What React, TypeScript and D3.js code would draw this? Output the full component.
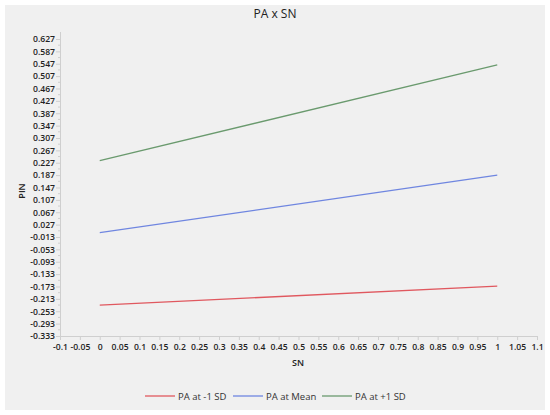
import React, { useEffect, useRef } from "react";
import * as d3 from "d3";

// simple slopes: PIN against SN at three levels of PA
const snValues = [0, 1];
const paLow = [-0.233, -0.172];
const paMean = [0.001, 0.187];
const paHigh = [0.234, 0.543];

const seriesNames = ["PA at -1 SD", "PA at Mean", "PA at +1 SD"];
const seriesColors = ["#e0585f", "#6f86e0", "#6a9a6e"];

const yTicks = [
  0.627, 0.587, 0.547, 0.507, 0.467, 0.427, 0.387, 0.347, 0.307, 0.267, 0.227, 0.187, 0.147,
  0.107, 0.067, 0.027, -0.013, -0.053, -0.093, -0.133, -0.173, -0.213, -0.253, -0.293, -0.333
];
const xTicks = [
  -0.1, -0.05, 0, 0.05, 0.1, 0.15, 0.2, 0.25, 0.3, 0.35, 0.4, 0.45, 0.5, 0.55, 0.6, 0.65, 0.7,
  0.75, 0.8, 0.85, 0.9, 0.95, 1, 1.05, 1.1
];

const W = 550;
const H = 415;
const FONT = "'Open Sans', 'Noto Sans', sans-serif";

function App() {
  const svgRef = useRef<SVGSVGElement | null>(null);

  useEffect(() => {
    const svg = d3.select(svgRef.current);
    svg.selectAll("*").remove();

    svg.append("rect")
      .attr("x", 5).attr("y", 5)
      .attr("width", 540).attr("height", 405)
      .attr("fill", "#f0f0f0");

    const x = d3.scaleLinear().domain([-0.1, 1.1]).range([60, 537]);
    const y = d3.scaleLinear().domain([-0.333, 0.627]).range([336, 39]);

    // y axis
    const yAxis = d3.axisLeft(y)
      .tickValues(yTicks)
      .tickSize(4)
      .tickFormat((d: any) => String(d));
    const gy = svg.append("g").attr("transform", "translate(60,0)").call(yAxis);
    gy.select(".domain").remove();
    gy.selectAll("line").attr("stroke", "#cfcfcf");
    gy.selectAll("text")
      .attr("font-family", FONT)
      .attr("font-size", 8.6)
      .attr("font-weight", 600)
      .attr("fill", "#222")
      .attr("x", -5);

    // minor ticks halfway between labels
    const minor = yTicks.slice(1).map((v, i) => (v + yTicks[i]) / 2);
    svg.append("g").selectAll("line").data(minor).join("line")
      .attr("x1", 58).attr("x2", 60)
      .attr("y1", (d) => y(d)).attr("y2", (d) => y(d))
      .attr("stroke", "#cfcfcf");

    svg.append("line")
      .attr("x1", 60.5).attr("x2", 60.5)
      .attr("y1", 32).attr("y2", 336)
      .attr("stroke", "#cfcfcf");

    // x axis
    const xAxis = d3.axisBottom(x)
      .tickValues(xTicks)
      .tickSize(4)
      .tickFormat((d: any) => String(d));
    const gx = svg.append("g").attr("transform", "translate(0,336)").call(xAxis);
    gx.select(".domain").remove();
    gx.selectAll("line").attr("stroke", "#cfcfcf");
    gx.selectAll("text")
      .attr("font-family", FONT)
      .attr("font-size", 8.6)
      .attr("font-weight", 600)
      .attr("fill", "#222")
      .attr("y", 8);

    svg.append("line")
      .attr("x1", 60).attr("x2", 537)
      .attr("y1", 336.5).attr("y2", 336.5)
      .attr("stroke", "#cfcfcf");

    // lines
    const line = d3.line<number>()
      .x((_, i) => x(snValues[i]))
      .y((d) => y(d));
    [paLow, paMean, paHigh].forEach((s, i) => {
      svg.append("path")
        .attr("d", line(s) as string)
        .attr("fill", "none")
        .attr("stroke", seriesColors[i])
        .attr("stroke-width", 1.3);
    });

    // titles
    svg.append("text")
      .attr("x", 275).attr("y", 18)
      .attr("text-anchor", "middle")
      .attr("font-family", FONT)
      .attr("font-size", 12)
      .attr("fill", "#222")
      .text("PA x SN");

    svg.append("text")
      .attr("transform", "translate(25,191) rotate(-90)")
      .attr("text-anchor", "middle")
      .attr("font-family", FONT)
      .attr("font-size", 9)
      .attr("font-weight", 600)
      .attr("fill", "#222")
      .text("PIN");

    svg.append("text")
      .attr("x", 298).attr("y", 366)
      .attr("text-anchor", "middle")
      .attr("font-family", FONT)
      .attr("font-size", 9)
      .attr("font-weight", 600)
      .attr("fill", "#222")
      .text("SN");

    // legend
    const legendX = [145, 233, 322];
    const lg = svg.append("g").attr("transform", "translate(0,396)");
    seriesNames.forEach((name, i) => {
      lg.append("line")
        .attr("x1", legendX[i]).attr("x2", legendX[i] + 30)
        .attr("y1", 0).attr("y2", 0)
        .attr("stroke", seriesColors[i])
        .attr("stroke-width", 1.3);
      lg.append("text")
        .attr("x", legendX[i] + 33).attr("y", 3.5)
        .attr("font-family", FONT)
        .attr("font-size", 9.5)
        .attr("fill", "#333")
        .text(name);
    });
  }, []);

  return (
    <svg
      ref={svgRef}
      width={W}
      height={H}
      style={{ position: "absolute", left: 0, top: 0, background: "#fff" }}
    />
  );
}

export default App;
